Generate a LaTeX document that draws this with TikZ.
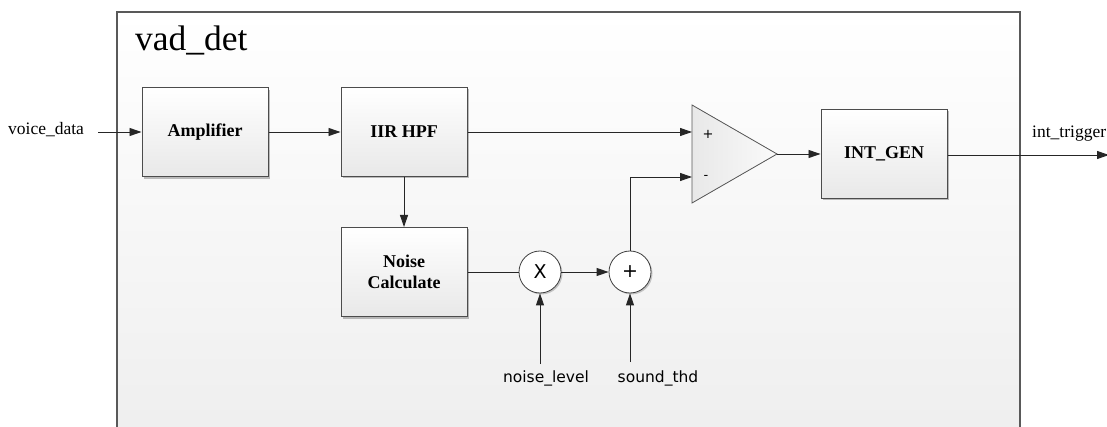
\documentclass[tikz,border=0pt]{standalone}
\usepackage{fontspec}
\setmainfont{Liberation Serif}
\newfontfamily\dejavu{DejaVu Sans}
\usetikzlibrary{arrows.meta,shadows,calc}
\tikzset{
  blk/.style={draw=black!70, line width=1pt, top color=white, bottom color=black!9,
    minimum width=126pt, minimum height=89pt, inner sep=0pt, align=center,
    font=\fontsize{18}{21}\selectfont\bfseries,
    drop shadow={shadow xshift=2pt, shadow yshift=-2pt, opacity=0.25, fill=black}},
  sumc/.style={circle, draw=black!75, line width=0.8pt, fill=white, minimum size=42pt,
    inner sep=0pt, font=\dejavu\fontsize{19}{19}\selectfont,
    drop shadow={shadow xshift=1.5pt, shadow yshift=-1.5pt, opacity=0.2, fill=black}},
  wire/.style={line width=0.9pt, draw=black!85},
  arr/.style={wire, -{Triangle[length=12pt,width=8pt]}},
  sig/.style={inner sep=0pt, font=\fontsize{17.5}{20}\selectfont},
  sans/.style={inner sep=0pt, font=\dejavu\fontsize{15.5}{18}\selectfont},
}
\begin{document}
\begin{tikzpicture}[x=1pt,y=-1pt]
\useasboundingbox (0,0) rectangle (1107,427);
\clip (0,0) rectangle (1107,427);
\fill[white] (0,0) rectangle (1107,427);
% frame
\draw[draw=black!65, line width=1.6pt, top color=white, bottom color=black!7]
  (117,12) rectangle (1020,470);
\node[inner sep=0pt, anchor=base west, font=\fontsize{35.5}{38}\selectfont] (title) at (135,51) {vad\_det};
% blocks
\node[blk] (amp) at (205,132.5) {Amplifier};
\node[blk] (iir) at (404,132) {IIR HPF};
\node[blk] (noise) at (404,272) {Noise\\Calculate};
\node[blk] (gen) at (884,154) {INT\_GEN};
\node[sumc] (mul) at (540,272) {X};
\node[sumc] (add) at (630,272) {+};
% comparator
\coordinate (ctop) at (692,105);
\coordinate (cbot) at (692,203);
\coordinate (cout) at (777,154);
\coordinate (cp) at (692,132);
\coordinate (cm) at (692,177);
\filldraw[draw=black!65, line width=0.8pt, left color=black!9, right color=black!2]
  (ctop) -- (cout) -- (cbot) -- cycle;
\node[inner sep=0pt, font=\dejavu\fontsize{13}{13}\selectfont] (plus) at (708,134) {+};
\node[inner sep=0pt, font=\dejavu\fontsize{13}{13}\selectfont] (minus) at (706,177) {-};
% signals
\node[sig, anchor=base west] (vin) at (8,135) {voice\_data};
\coordinate (vstart) at (98,132);
\node[sig, anchor=base west] (trig) at (1032,138) {int\_trigger};
\coordinate (tend) at (1109,155);
\node[sans] (nl) at (546,378) {noise\_level};
\node[sans] (st) at (658,378) {sound\_thd};
\coordinate (nls) at (540,364);
\coordinate (sts) at (630,362);
% connectors
\draw[arr] (vstart) -- (amp.west |- vstart);
\draw[arr] (amp.east |- vstart) -- (iir.west |- vstart);
\draw[arr] (iir.south) -- (noise.north);
\draw[wire] (noise.east |- mul.west) -- (mul.west);
\draw[arr] (mul.east) -- (add.west);
\draw[arr] (nls) -- (mul.south);
\draw[arr] (sts) -- (add.south);
\draw[arr] (iir.east |- cp) -- (cp);
\draw[arr] (add.north) |- (cm);
\draw[arr] (cout) -- (gen.west |- cout);
\draw[arr] (gen.east |- tend) -- (tend);
\end{tikzpicture}
\end{document}
